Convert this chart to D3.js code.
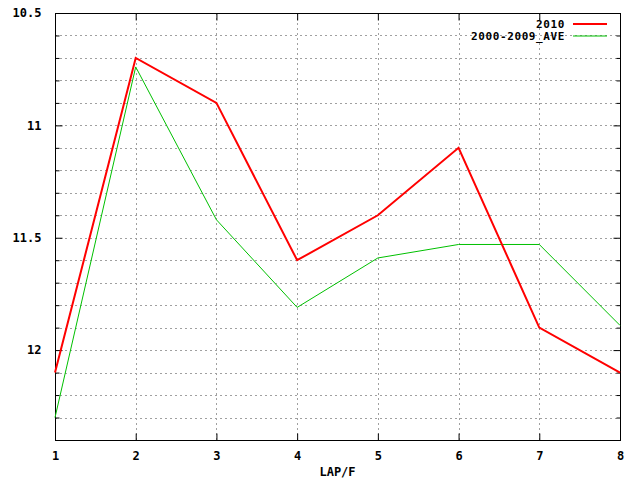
<!DOCTYPE html>
<html><head><meta charset="utf-8">
<script src="https://cdn.jsdelivr.net/npm/d3@7"></script>
<style>body{margin:0;background:#fff}svg text{font-family:"DejaVu Sans Mono","Liberation Mono",monospace;font-weight:bold;font-size:12px}</style>
</head><body>
<script>
const laps = [1,2,3,4,5,6,7,8];
const series2010 = [12.1,10.7,10.9,11.6,11.4,11.1,11.9,12.1];
const seriesAve = [12.3,10.74,11.42,11.81,11.59,11.53,11.53,11.89];
const seriesNames = ["2010","2000-2009_AVE"];
const seriesColors = ["#ff0000","#00c000"];
const yMajorTicks = [10.5,11,11.5,12];
const yMinorTicks = [10.6,10.7,10.8,10.9,11.1,11.2,11.3,11.4,11.6,11.7,11.8,11.9,12.1,12.2,12.3];
const xLabel = "LAP/F";

const W=640,H=480,L=55,R=620,T=13,B=440;
const svg=d3.select("body").append("svg").attr("width",W).attr("height",H);
const x=d3.scaleLinear().domain([1,8]).range([L,R]);
const y=d3.scaleLinear().domain([10.5,12.4]).range([T,B]);
const grid=svg.append("g").attr("stroke","#a0a0a0").attr("stroke-dasharray","2,3").attr("stroke-width",1);
const allY=yMajorTicks.concat(yMinorTicks);
allY.forEach(v=>{ if(v>10.5) grid.append("line").attr("x1",L).attr("x2",R).attr("y1",Math.round(y(v))+0.5).attr("y2",Math.round(y(v))+0.5);});
laps.forEach(v=>{ if(v>1&&v<8) grid.append("line").attr("y1",T).attr("y2",B).attr("x1",Math.round(x(v))+0.5).attr("x2",Math.round(x(v))+0.5);});

// axes
const axL=svg.append("g").attr("transform",`translate(${L+0.5},0)`).call(d3.axisLeft(y).tickValues(yMajorTicks).tickSize(-7).tickPadding(14).tickFormat(d3.format("")));
const axLm=svg.append("g").attr("transform",`translate(${L+0.5},0)`).call(d3.axisLeft(y).tickValues(yMinorTicks).tickSize(-4).tickFormat(""));
const axR=svg.append("g").attr("transform",`translate(${R+0.5},0)`).call(d3.axisRight(y).tickValues(yMajorTicks).tickSize(-7).tickFormat(""));
const axRm=svg.append("g").attr("transform",`translate(${R+0.5},0)`).call(d3.axisRight(y).tickValues(yMinorTicks).tickSize(-4).tickFormat(""));
const axB=svg.append("g").attr("transform",`translate(0,${B+0.5})`).call(d3.axisBottom(x).tickValues(laps).tickSize(-7).tickPadding(11).tickFormat(d3.format("d")));
const axT=svg.append("g").attr("transform",`translate(0,${T+0.5})`).call(d3.axisTop(x).tickValues(laps).tickSize(-7).tickFormat(""));
[axL,axLm,axR,axRm,axB,axT].forEach(a=>{a.select(".domain").remove();a.selectAll("line").attr("stroke","#000");a.selectAll("text").attr("fill","#000").style("font-size","12px");});
svg.append("rect").attr("x",L+0.5).attr("y",T+0.5).attr("width",R-L).attr("height",B-T).attr("fill","none").attr("stroke","#000").attr("stroke-width",1);

svg.append("text").attr("x",(L+R)/2).attr("y",476).attr("text-anchor","middle").text(xLabel);

const line=d3.line().x((d,i)=>x(laps[i])).y(d=>y(d));
svg.append("path").datum(seriesAve).attr("d",line).attr("fill","none").attr("stroke",seriesColors[1]).attr("stroke-width",1);
svg.append("path").datum(series2010).attr("d",line).attr("fill","none").attr("stroke",seriesColors[0]).attr("stroke-width",2);

// legend
seriesNames.forEach((n,i)=>{
  const yy=24+i*12;
  svg.append("text").attr("x",565).attr("y",yy+4).attr("text-anchor","end").style("font-size","11px").style("letter-spacing","0.6px").text(n);
  svg.append("line").attr("x1",573).attr("x2",607).attr("y1",yy).attr("y2",yy).attr("stroke",seriesColors[i]).attr("stroke-width",i===0?2:1);
});
</script>
</body></html>
